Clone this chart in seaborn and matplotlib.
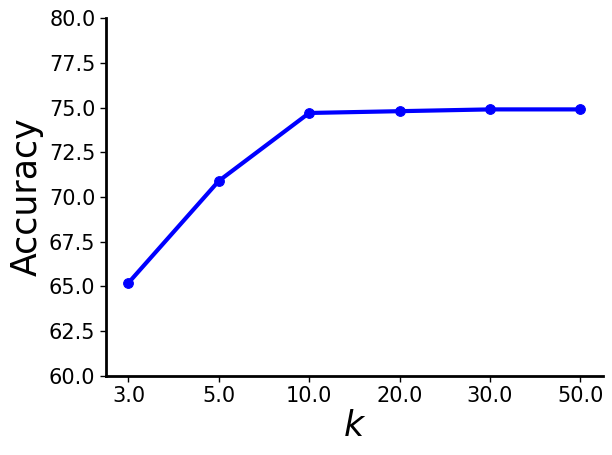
import matplotlib
matplotlib.use("Agg")
import matplotlib.pyplot as plt
import seaborn as sns
import pandas as pd

k_labels = ["3.0", "5.0", "10.0", "20.0", "30.0", "50.0"]
accuracy = [65.2, 70.9, 74.7, 74.8, 74.9, 74.9]

sns.set_style("ticks")
plt.rcParams['font.family'] = ['DejaVu Sans']

df = pd.DataFrame({"x": list(range(len(k_labels))), "acc": accuracy})

fig = plt.figure(figsize=(6.12, 4.55), dpi=100)
ax = fig.add_axes([0.173, 0.174, 0.812, 0.786])
sns.lineplot(data=df, x="x", y="acc", ax=ax, color="blue", linewidth=3,
             marker="o", markersize=7, markeredgecolor="blue")
ax.set_xticks(range(len(k_labels)))
ax.set_xticklabels(k_labels, fontsize=15, color="black")
ax.set_ylim(60, 80)
ax.set_yticks([60 + 2.5 * i for i in range(9)])
ax.set_yticklabels([f"{60 + 2.5 * i:.1f}" for i in range(9)], fontsize=15, color="black")
ax.set_xlabel("$k$", fontsize=25, color="black", labelpad=2)
ax.set_ylabel("Accuracy", fontsize=25, color="black")
ax.margins(x=0.05)
sns.despine(ax=ax)
for s in ["left", "bottom"]:
    ax.spines[s].set_linewidth(2)
    ax.spines[s].set_color("black")
ax.tick_params(axis="both", colors="black", width=1, length=4, direction="out")
fig.savefig("out.png", dpi=100)
